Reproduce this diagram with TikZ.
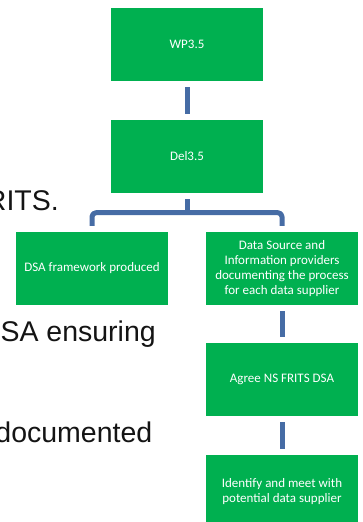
\documentclass[tikz,border=0pt]{standalone}
\usepackage{fontspec}
\setmainfont{Liberation Sans}
\newfontfamily\boxfont{Carlito}
\definecolor{boxgreen}{RGB}{0,176,80}
\definecolor{connblue}{RGB}{70,108,165}
\definecolor{bgtext}{RGB}{20,20,20}
\begin{document}
\begin{tikzpicture}[x=1pt,y=-1pt,
  greenbox/.style={draw=none, fill=boxgreen, minimum width=152pt, minimum height=73pt,
    inner sep=0pt, text=white, align=center, font=\boxfont\fontsize{13}{14.8}\selectfont},
  conn/.style={draw=connblue, line width=5pt, line cap=butt, line join=round},
  bgline/.style={anchor=base east, inner sep=0pt, text=bgtext, font=\fontsize{28.5}{32}\selectfont}]
\useasboundingbox (0,0) rectangle (363,522);
\clip (0,0) rectangle (363,522);
% partial background slide text
\node[bgline] (t1) at (59,210) {RITS.};
\node[bgline] (t2) at (156,341.5) {SA ensuring};
\node[bgline] (t3) at (152.5,442.5) {documented};
% boxes
\node[greenbox] (wp) at (187,44.5) {WP3.5};
\node[greenbox] (del) at (187,156.5) {Del3.5};
\node[greenbox] (dsa) at (92,268.5) {DSA framework produced};
\node[greenbox] (data) at (282,268.5) {Data Source and\\Information providers\\documenting the process\\for each data supplier};
\node[greenbox] (agree) at (282,379.5) {Agree NS FRITS DSA};
\node[greenbox] (ident) at (282,491.5) {Identify and meet with\\potential data supplier};
% connectors
\draw[conn, shorten <=6pt, shorten >=6pt] (wp.south) -- (del.north);
\coordinate (jct) at ([yshift=-19.5pt]del.south);
\draw[conn, shorten <=6pt] (del.south) -- (jct);
\draw[conn, rounded corners=4pt, shorten <=6pt, shorten >=6pt] (dsa.north) |- (jct) -| (data.north);
\draw[conn, shorten <=6pt, shorten >=6pt] (data.south) -- (agree.north);
\draw[conn, shorten <=6pt, shorten >=6pt] (agree.south) -- (ident.north);
\end{tikzpicture}
\end{document}
